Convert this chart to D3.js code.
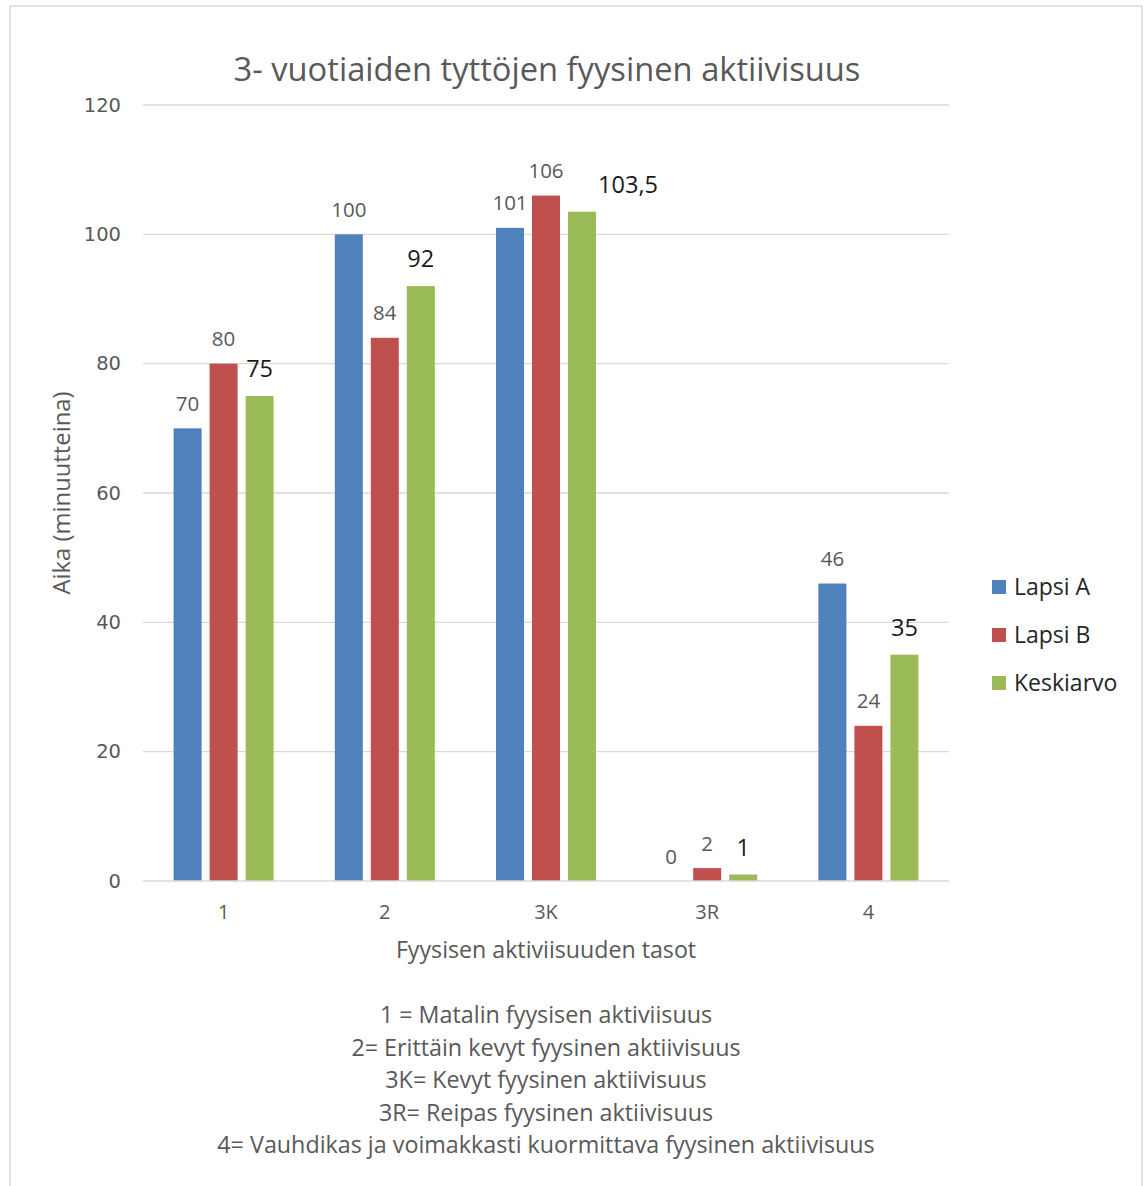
<!DOCTYPE html>
<html>
<head>
<meta charset="utf-8">
<script src="https://cdn.jsdelivr.net/npm/d3@7/dist/d3.min.js"></script>
<style>
  html, body { margin: 0; padding: 0; background: #fff; }
  svg { display: block; }
</style>
</head>
<body>
<script>
// Activity levels and minutes per child
const categories = ["1", "2", "3K", "3R", "4"];
const seriesNames = ["Lapsi A", "Lapsi B", "Keskiarvo"];
const lapsiA = [70, 100, 101, 0, 46];
const lapsiB = [80, 84, 106, 2, 24];
const keskiarvo = [75, 92, 103.5, 1, 35];
const yTicks = [0, 20, 40, 60, 80, 100, 120];
const footnotes = [
  "1 = Matalin fyysisen aktiviisuus",
  "2= Erittäin kevyt fyysinen aktiivisuus",
  "3K= Kevyt fyysinen aktiivisuus",
  "3R= Reipas fyysinen aktiivisuus",
  "4= Vauhdikas ja voimakkasti kuormittava fyysinen aktiivisuus"
];

const W = 1146, H = 1186;
const colors = ["#4f81bd", "#c0504d", "#9bbb59"];
const labelColors = ["#595959", "#595959", "#1a1a1a"];
const labelSizes = [20.5, 20.5, 23.5];
const FONT = "'Open Sans', 'Noto Sans', sans-serif";
const TICKFONT = "'DejaVu Sans', Verdana, sans-serif";

const svg = d3.select("body").append("svg").attr("width", W).attr("height", H);

// outer frame
svg.append("rect").attr("x", 10).attr("y", 6).attr("width", 1132).attr("height", 1200)
  .attr("fill", "#fff").attr("stroke", "#d9d9d9").attr("stroke-width", 1.5);

const plot = { left: 143, right: 949, top: 105, bottom: 881 };

const x = d3.scaleBand().domain(categories).range([plot.left, plot.right]).padding(0);
const y = d3.scaleLinear().domain([0, 120]).range([plot.bottom, plot.top]);

const barW = 28, barGap = 8;
const groupW = 3 * barW + 2 * barGap;
const xs = d3.scaleBand().domain(seriesNames)
  .range([0, groupW]).paddingInner(barGap / (barW + barGap)).paddingOuter(0);

// gridlines
svg.append("g").selectAll("line").data(yTicks.filter(t => t !== 0)).join("line")
  .attr("x1", plot.left).attr("x2", plot.right)
  .attr("y1", d => y(d)).attr("y2", d => y(d))
  .attr("stroke", "#d9d9d9").attr("stroke-width", 1.3);

// y axis labels
const yAxis = d3.axisLeft(y).tickValues(yTicks).tickSize(0).tickPadding(0);
const gy = svg.append("g").attr("transform", `translate(${plot.left - 22},0)`).call(yAxis);
gy.select(".domain").remove();
gy.selectAll("text").attr("font-family", TICKFONT).attr("font-size", 19.5)
  .attr("fill", "#595959");

// bars
const data = [lapsiA, lapsiB, keskiarvo];
data.forEach((vals, si) => {
  const g = svg.append("g");
  g.selectAll("rect").data(vals).join("rect")
    .attr("x", (d, i) => x(categories[i]) + (x.bandwidth() - groupW) / 2 + xs(seriesNames[si]))
    .attr("y", d => y(d))
    .attr("width", xs.bandwidth())
    .attr("height", d => y(0) - y(d))
    .attr("fill", colors[si]);
});

// baseline
svg.append("line").attr("x1", plot.left).attr("x2", plot.right)
  .attr("y1", y(0)).attr("y2", y(0)).attr("stroke", "#d9d9d9").attr("stroke-width", 1.5);

// value labels
const labelNudge = { "2-2": 46 }; // series-category pairs shifted right to avoid overlap
data.forEach((vals, si) => {
  svg.append("g").selectAll("text").data(vals).join("text")
    .attr("x", (d, i) => x(categories[i]) + (x.bandwidth() - groupW) / 2 + xs(seriesNames[si]) + barW / 2 + (labelNudge[si + "-" + i] || 0))
    .attr("y", d => y(d) - (si === 2 ? 19 : 17.5))
    .attr("text-anchor", "middle")
    .attr("font-family", FONT).attr("font-size", labelSizes[si])
    .attr("fill", labelColors[si])
    .text(d => String(d).replace(".", ","));
});

// x axis category labels
const xAxis = d3.axisBottom(x).tickSize(0).tickPadding(0);
const gx = svg.append("g").attr("transform", `translate(0,${plot.bottom + 38})`).call(xAxis);
gx.select(".domain").remove();
gx.selectAll("text").attr("font-family", FONT).attr("font-size", 20).attr("fill", "#595959")
  .attr("dy", 0);

// title
svg.append("text").attr("x", 547).attr("y", 81).attr("text-anchor", "middle")
  .attr("font-family", FONT).attr("font-size", 32.7).attr("fill", "#595959")
  .text("3- vuotiaiden tyttöjen fyysinen aktiivisuus");

// axis titles
svg.append("text").attr("transform", "translate(70,493) rotate(-90)")
  .attr("text-anchor", "middle").attr("font-family", FONT).attr("font-size", 23.8)
  .attr("fill", "#595959").text("Aika (minuutteina)");

svg.append("text").attr("x", 546).attr("y", 958).attr("text-anchor", "middle")
  .attr("font-family", FONT).attr("font-size", 23.2).attr("fill", "#595959")
  .text("Fyysisen aktiviisuuden tasot");

// explanation lines
svg.append("g").selectAll("text").data(footnotes).join("text")
  .attr("x", 546).attr("y", (d, i) => 1023 + i * 32.6)
  .attr("text-anchor", "middle").attr("font-family", FONT).attr("font-size", 23.3)
  .attr("fill", "#595959").text(d => d);

// legend
const lg = svg.append("g").attr("transform", "translate(992,580)");
seriesNames.forEach((name, i) => {
  lg.append("rect").attr("x", 0).attr("y", i * 48).attr("width", 14).attr("height", 14)
    .attr("fill", colors[i]);
  lg.append("text").attr("x", 22).attr("y", i * 48 + 14.5)
    .attr("font-family", FONT).attr("font-size", 23).attr("fill", "#262626").text(name);
});
</script>
</body>
</html>
